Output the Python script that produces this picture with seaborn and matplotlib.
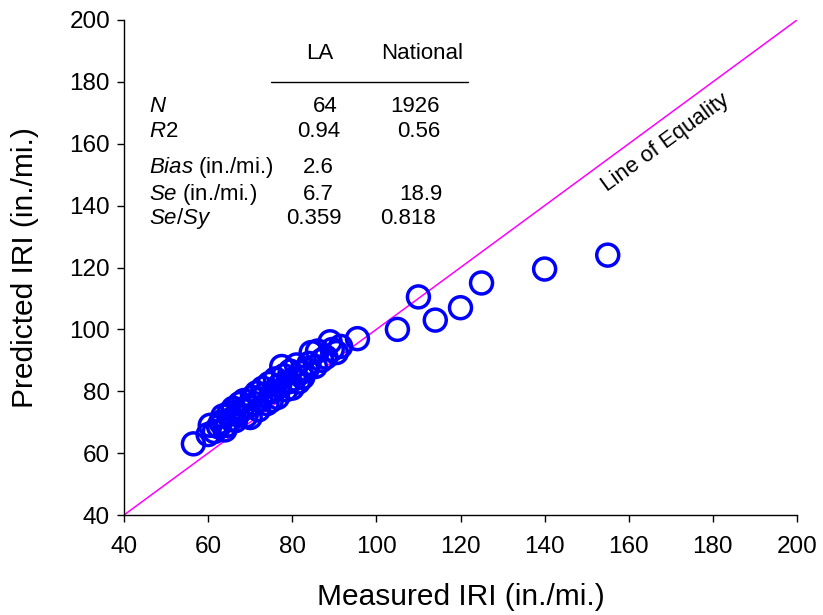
import matplotlib
matplotlib.use("Agg")
import matplotlib.pyplot as plt
import seaborn as sns
import pandas as pd

# ---- data ----
measured = [56.5, 60, 60.5, 61.5, 62.5, 63, 63.5, 64, 64.5, 65, 65.5, 66, 66.5, 67,
            67.5, 68, 68.5, 69, 69.5, 70, 70.5, 71, 71.5, 72, 72.5, 73, 73.5, 74,
            74.5, 75, 75.5, 76, 76.5, 77, 77.5, 78, 78.5, 79, 79.5, 80, 80.5, 81,
            81.5, 82, 82.5, 83.5, 84, 84.5, 85.5, 86, 87, 88, 89, 89.5, 90.5, 91.5,
            95.5, 105, 110, 114, 120, 125, 140, 155]
predicted = [63, 66, 69, 67, 68.5, 70, 72, 67.5, 69, 73, 71, 74.5, 70.5, 72.5,
             76, 74, 77, 72, 75, 71.5, 78, 76, 79.5, 74, 77.5, 81, 79, 76,
             82.5, 77, 80, 84, 78, 82, 88, 85, 80.5, 83, 86.5, 81, 84, 88.5,
             83, 86, 84.5, 87, 89, 92.5, 88, 93, 90, 91, 96, 93.5, 92.5, 94.5,
             97, 100, 110.5, 103, 107, 115, 119.5, 124]
axis_range = [40, 200]
ticks = [40, 60, 80, 100, 120, 140, 160, 180, 200]

col_headers = ["LA", "National"]
row_labels = [r"$\it{N}$", r"$\it{R2}$", r"$\it{Bias}$ (in./mi.)",
              r"$\it{Se}$ (in./mi.)", r"$\it{Se/Sy}$"]
la_values = ["64", "0.94", "2.6", "6.7", "0.359"]
national_values = ["1926", "0.56", "", "18.9", "0.818"]

df = pd.DataFrame({"Measured": measured, "Predicted": predicted})
eq = pd.DataFrame({"x": axis_range, "y": axis_range})

# ---- style ----
sns.set_style("ticks")
plt.rcParams["font.family"] = ["Liberation Sans", "DejaVu Sans"]
plt.rcParams["mathtext.fontset"] = "custom"
plt.rcParams["mathtext.rm"] = "Liberation Sans"
plt.rcParams["mathtext.it"] = "Liberation Sans:italic"
plt.rcParams["text.color"] = "black"
plt.rcParams["axes.labelcolor"] = "black"

fig = plt.figure(figsize=(8.23, 6.15), dpi=100)
ax = fig.add_axes([124 / 823, 1 - 515 / 615, (797 - 124) / 823, (515 - 20) / 615])

sns.lineplot(data=eq, x="x", y="y", ax=ax, color="#FF00FF", linewidth=1.1)
sns.scatterplot(data=df, x="Measured", y="Predicted", ax=ax, s=250,
                facecolor="none", edgecolor="#0000FF", linewidth=2.5,
                marker="o", zorder=3)

ax.set_xlim(axis_range)
ax.set_ylim(axis_range)
ax.set_xticks(ticks)
ax.set_yticks(ticks)
ax.tick_params(axis="both", labelsize=17.5, length=5, width=1, direction="out",
               color="black", labelcolor="black")
ax.tick_params(axis="x", pad=10)
ax.tick_params(axis="y", pad=5)
for s in ["left", "bottom"]:
    ax.spines[s].set_color("black")
    ax.spines[s].set_linewidth(1)
sns.despine(ax=ax)

ax.set_xlabel("Measured IRI (in./mi.)", fontsize=21.5, labelpad=18)
ax.set_ylabel("Predicted IRI (in./mi.)", fontsize=21.5, labelpad=22)

# ---- stats table ----
fs = 16
ax.text(86.6, 189.3, col_headers[0], fontsize=fs, ha="center", va="center")
ax.text(110.9, 189.3, col_headers[1], fontsize=fs, ha="center", va="center")
ax.plot([74.9, 121.8], [180.0, 180.0], color="black", linewidth=1)
row_y = [172.2, 164.1, 152.2, 143.7, 135.7]
la_x = [87.8, 86.4, 86.1, 86.1, 85.2]
nat_x = [109.2, 110.1, 110.6, 110.6, 107.5]
for i, lab in enumerate(row_labels):
    ax.text(45.9, row_y[i], lab, fontsize=fs, ha="left", va="center")
    ax.text(la_x[i], row_y[i], la_values[i], fontsize=fs, ha="center", va="center")
    if national_values[i]:
        ax.text(nat_x[i], row_y[i], national_values[i], fontsize=fs,
                ha="center", va="center")

ax.text(168.6, 160.2, "Line of Equality", fontsize=16, rotation=36,
        ha="center", va="center", rotation_mode="anchor")

fig.savefig("out.png", dpi=100)
